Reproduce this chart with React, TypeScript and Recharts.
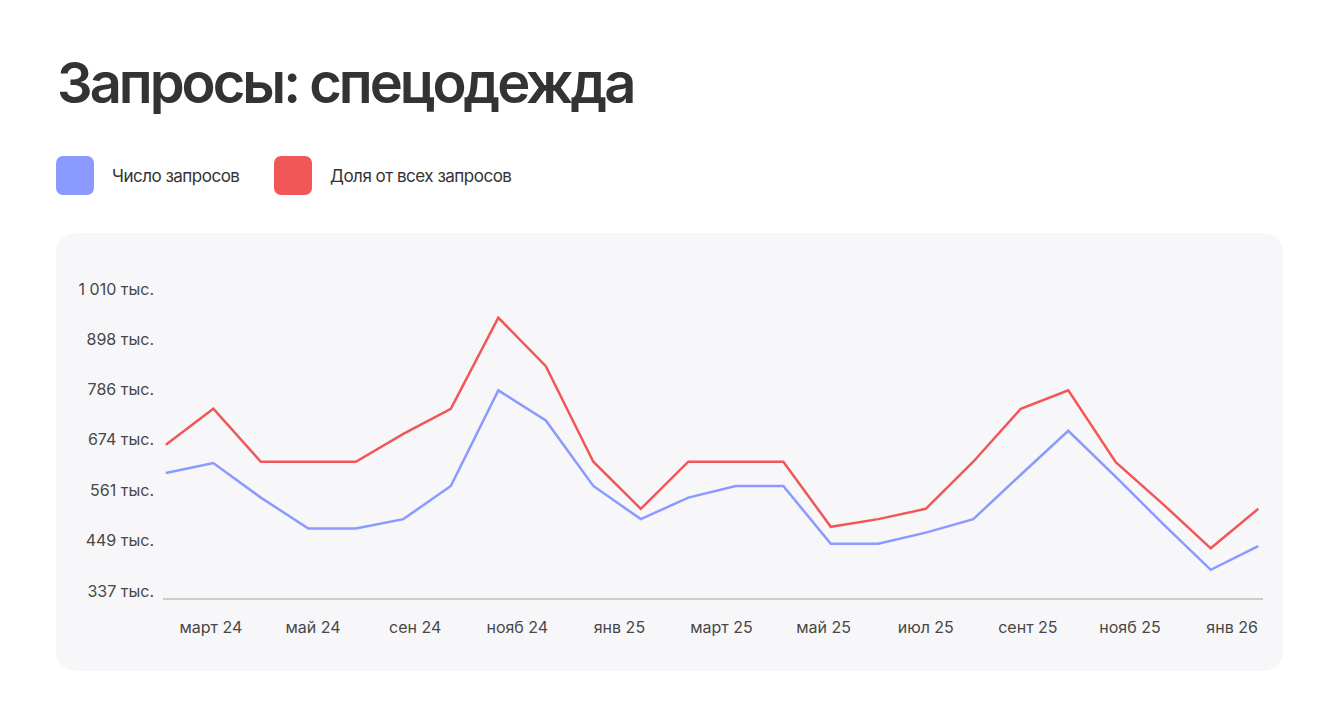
import React from "react";
import { LineChart, Line, XAxis, YAxis } from "recharts";

const monthIndex = [0, 1, 2, 3, 4, 5, 6, 7, 8, 9, 10, 11, 12, 13, 14, 15, 16, 17, 18, 19, 20, 21, 22, 23];
const requestCount = [600, 622, 545, 476, 476, 497, 571, 784, 717, 571, 497, 545, 571, 571, 442, 442, 467, 497, 596, 694, 591, 486, 384, 437];
const shareOfAll = [663, 743, 625, 625, 625, 687, 743, 946, 838, 625, 520, 625, 625, 625, 480, 497, 520, 625, 743, 784, 624, 530, 432, 520];
const xLabels = ["март 24", "май 24", "сен 24", "нояб 24", "янв 25", "март 25", "май 25", "июл 25", "сент 25", "нояб 25", "янв 26"];
const yTicks = [337, 449, 561, 674, 786, 898, 1010];

// label slots sit on their own grid along the month axis
const LABEL_START = 0.95;
const LABEL_STEP = 2.15;
const xLabelTicks = xLabels.map((_, k) => LABEL_START + k * LABEL_STEP);

const data = monthIndex.map((i, k) => ({ i, count: requestCount[k], share: shareOfAll[k] }));

const BLUE = "#8A9AFF";
const RED = "#F25757";
const FONT = "Inter, 'Noto Sans', sans-serif";

const fmtY = (v: number) => {
  const s = String(v);
  const t = s.length > 3 ? s.slice(0, s.length - 3) + " " + s.slice(s.length - 3) : s;
  return t + " тыс.";
};

const fmtX = (v: number) => xLabels[Math.round((v - LABEL_START) / LABEL_STEP)] ?? "";

export default function App() {
  return (
    <div style={{ position: "absolute", left: 0, top: 0, width: 1340, height: 727, background: "#fff", fontFamily: FONT }}>
      <div
        style={{
          position: "absolute",
          left: 57,
          top: 55,
          fontSize: 56,
          lineHeight: "56px",
          fontWeight: 600,
          letterSpacing: -3,
          color: "#333333",
          whiteSpace: "nowrap",
        }}
      >
        Запросы: спецодежда
      </div>
      {[
        { color: BLUE, label: "Число запросов", x: 56 },
        { color: RED, label: "Доля от всех запросов", x: 274 },
      ].map((it) => (
        <div key={it.label} style={{ position: "absolute", left: it.x, top: 156, height: 39, display: "flex", alignItems: "center" }}>
          <div style={{ width: 38, height: 39, borderRadius: 7, background: it.color }} />
          <span style={{ marginLeft: 18, fontSize: 17, color: "#333333", whiteSpace: "nowrap", letterSpacing: -0.5 }}>{it.label}</span>
        </div>
      ))}
      <div
        style={{
          position: "absolute",
          left: 56,
          top: 233,
          width: 1227,
          height: 438,
          borderRadius: 20,
          background: "#F7F7F9",
        }}
      >
        <LineChart width={1227} height={438} data={data} margin={{ top: 56, right: 20, bottom: 32, left: 0 }}>
          <XAxis
            dataKey="i"
            type="number"
            domain={[-0.06, 23.1]}
            ticks={xLabelTicks}
            interval={0}
            allowDataOverflow
            tickFormatter={fmtX}
            tickLine={false}
            axisLine={{ stroke: "#A3A3A3", strokeWidth: 1 }}
            tick={{ fill: "#474747", fontSize: 16, fontFamily: FONT }}
            tickMargin={17}
            height={40}
          />
          <YAxis
            type="number"
            domain={[319, 1010]}
            ticks={yTicks}
            interval={0}
            allowDataOverflow
            tickFormatter={fmtY}
            tickLine={false}
            axisLine={false}
            tick={{ fill: "#474747", fontSize: 16, fontFamily: FONT }}
            tickMargin={3}
            width={107}
          />
          <Line
            type="linear"
            dataKey="count"
            stroke={BLUE}
            strokeWidth={2.5}
            dot={false}
            activeDot={false}
            isAnimationActive={false}
          />
          <Line
            type="linear"
            dataKey="share"
            stroke={RED}
            strokeWidth={2.5}
            dot={false}
            activeDot={false}
            isAnimationActive={false}
          />
        </LineChart>
      </div>
    </div>
  );
}
